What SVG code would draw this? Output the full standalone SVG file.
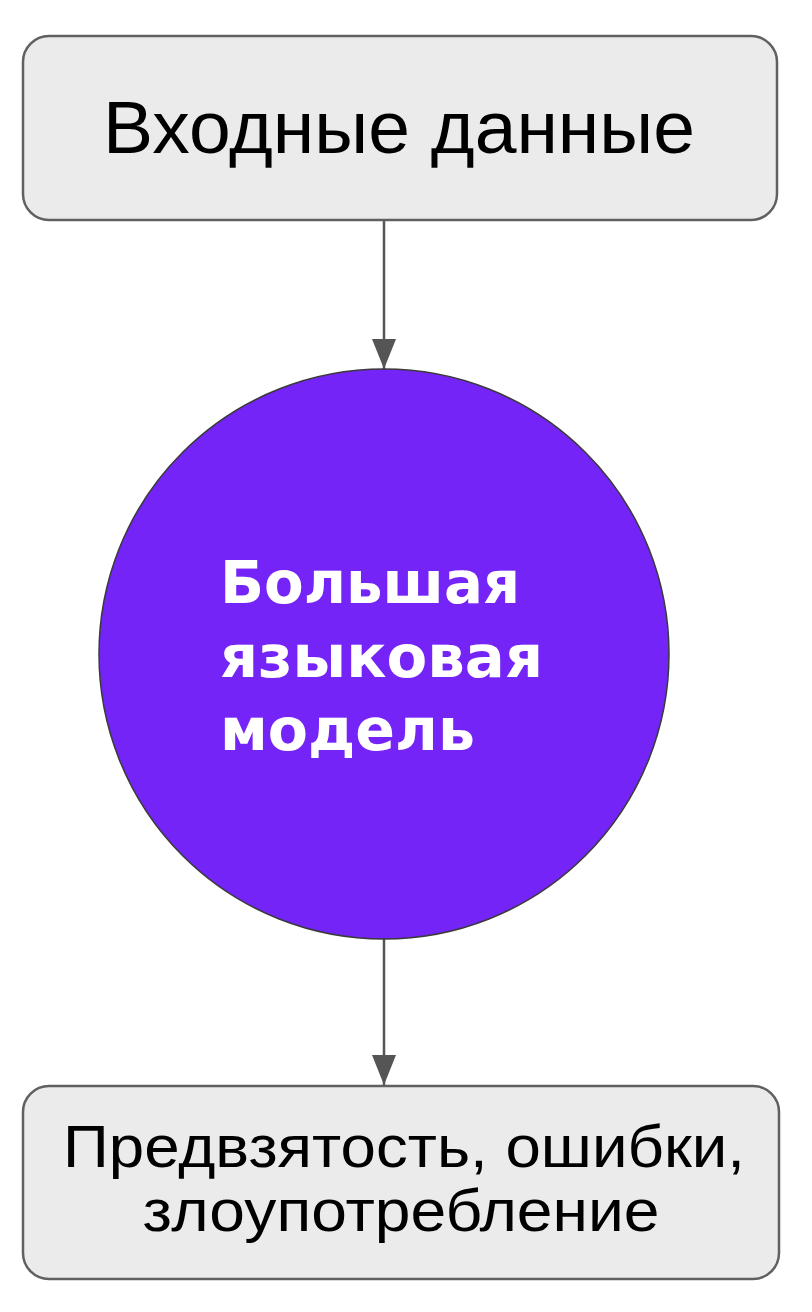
<svg xmlns="http://www.w3.org/2000/svg" width="812" height="1312" viewBox="0 0 812 1312">
<defs>
<style>
.box{fill:#ebebeb;stroke:#606060;stroke-width:2.5}
.lbl{font-family:"Liberation Sans",Arial,sans-serif;fill:#000;text-anchor:middle}
.big{font-family:"DejaVu Sans","Noto Sans",sans-serif;font-weight:bold;fill:#fff}
.edge{stroke:#555;stroke-width:2.5;fill:none}
</style>
<marker id="arr" viewBox="0 0 30 24" refX="30" refY="12" markerWidth="30" markerHeight="24" markerUnits="userSpaceOnUse" orient="auto">
<path d="M0,0 L30,12 L0,24 Z" fill="#555"/>
</marker>
</defs>
<rect width="812" height="1312" fill="#fff"/>
<g id="edges">
<line class="edge" x1="384" y1="221" x2="384" y2="369" marker-end="url(#arr)"/>
<line class="edge" x1="384" y1="938" x2="384" y2="1085" marker-end="url(#arr)"/>
</g>
<g id="input">
<rect class="box" x="23" y="36" width="754" height="184" rx="26"/>
<text class="lbl" x="399" y="153" font-size="75" textLength="592" lengthAdjust="spacingAndGlyphs">Входные данные</text>
</g>
<g id="llm">
<circle cx="384" cy="654" r="285" fill="#7424f6" stroke="#3a3a3a" stroke-width="1.5"/>
<text class="big" x="220" y="603" font-size="59" textLength="300" lengthAdjust="spacingAndGlyphs">Большая</text>
<text class="big" x="220" y="677" font-size="59" textLength="323" lengthAdjust="spacingAndGlyphs">языковая</text>
<text class="big" x="220" y="750" font-size="59" textLength="255" lengthAdjust="spacingAndGlyphs">модель</text>
</g>
<g id="output">
<rect class="box" x="23" y="1086" width="756" height="193" rx="26"/>
<text class="lbl" x="404" y="1167" font-size="60" textLength="682" lengthAdjust="spacingAndGlyphs">Предвзятость, ошибки,</text>
<text class="lbl" x="401" y="1231" font-size="60" textLength="517" lengthAdjust="spacingAndGlyphs">злоупотребление</text>
</g>
</svg>
